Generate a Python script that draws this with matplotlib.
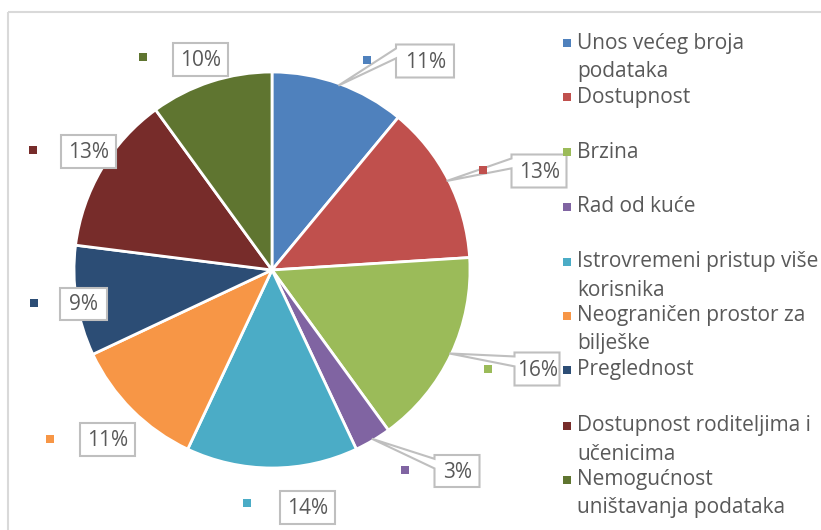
import matplotlib
matplotlib.use("Agg")
import matplotlib.pyplot as plt
from matplotlib.patches import Polygon, Rectangle
import numpy as np

# ---- data ----
categories = ["Unos većeg broja\npodataka", "Dostupnost", "Brzina", "Rad od kuće",
              "Istrovremeni pristup više\nkorisnika", "Neograničen prostor za\nbilješke",
              "Preglednost", "Dostupnost roditeljima i\nučenicima",
              "Nemogućnost\nuništavanja podataka"]
values = [11, 13, 16, 3, 14, 11, 9, 13, 10]
pct_labels = ["11%", "13%", "16%", "3%", "14%", "11%", "9%", "13%", "10%"]
colors = ["#4F81BD", "#C0504D", "#9BBB59", "#8064A2", "#4BACC6",
          "#F79646", "#2C4D75", "#772C2A", "#5F7530"]

# ---- layout ----
W, H = 821, 530
FONT = "Open Sans"
TXT = "#595959"
fig = plt.figure(figsize=(W / 100, H / 100), dpi=100)

cx, cy, r = 272, 270, 198
pie_ax = fig.add_axes([(cx - r) / W, (H - cy - r) / H, 2 * r / W, 2 * r / H])
wedges, _ = pie_ax.pie(values, colors=colors, startangle=90, counterclock=False,
                       radius=1.0, wedgeprops=dict(edgecolor="white", linewidth=2))
pie_ax.set_xlim(-1, 1)
pie_ax.set_ylim(-1, 1)
pie_ax.set_aspect("auto")
pie_ax.axis("off")

ov = fig.add_axes([0, 0, 1, 1], zorder=5)
ov.set_xlim(0, W)
ov.set_ylim(H, 0)
ov.axis("off")
ov.patch.set_alpha(0)

# chart frame
ov.add_patch(Rectangle((8, 12), 900, 600, fill=False, edgecolor="#D9D9D9", lw=1.5))


def to_ov(x, y):
    d = pie_ax.transData.transform((x, y))
    return ov.transData.inverted().transform(d)


# label boxes: (center x, center y, width, height, pointer?)
boxes = [(425, 61, 58, 33, True), (539, 171, 55, 33, True), (537, 369, 45, 33, True),
         (457, 471, 45, 32, True), (307, 507, 55, 33, False), (107, 439, 55, 33, False),
         (83, 304, 47, 32, False), (88, 151, 55, 33, False), (200, 59, 55, 33, False)]
keys = [(367, 60), (483, 170), (488, 369), (405, 470), (247, 503), (50, 439),
        (34, 303), (33, 150), (143, 57)]

for i, w in enumerate(wedges):
    bx, by, bw, bh, ptr = boxes[i]
    L, R, T, B = bx - bw / 2, bx + bw / 2, by - bh / 2, by + bh / 2
    if ptr:
        ang = np.deg2rad((w.theta1 + w.theta2) / 2)
        tx, ty = to_ov(0.99 * np.cos(ang), 0.99 * np.sin(ang))
        y1, y2 = T + bh * 0.12, T + bh * 0.42
        pts = [(L, T), (R, T), (R, B), (L, B), (L, y2), (tx, ty), (L, y1)]
    else:
        pts = [(L, T), (R, T), (R, B), (L, B)]
    ov.add_patch(Polygon(pts, closed=True, facecolor="white", edgecolor="#BFBFBF", lw=1.5))
    ov.text(bx + 1, by + 1, pct_labels[i], ha="center", va="center", fontsize=15,
            color=TXT, family=FONT)
    kx, ky = keys[i]
    ov.add_patch(Rectangle((kx - 4, ky - 4), 8, 8, facecolor=colors[i], edgecolor="none"))

# legend
leg_y = [43, 97, 152, 207, 262, 316, 370, 426, 480]
for i, lab in enumerate(categories):
    y = leg_y[i]
    ov.add_patch(Rectangle((563, y - 4), 8, 8, facecolor=colors[i], edgecolor="none"))
    for j, line in enumerate(lab.split("\n")):
        ov.text(577, y + 28 * j, line, ha="left", va="center", fontsize=15,
                color=TXT, family=FONT)

fig.savefig("out.png", dpi=100, facecolor="white")
